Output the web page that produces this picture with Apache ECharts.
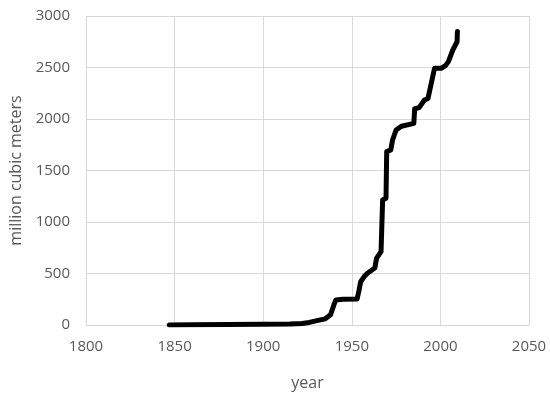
<!DOCTYPE html>
<html>
<head>
<meta charset="utf-8">
<script src="https://cdn.jsdelivr.net/npm/echarts@6/dist/echarts.min.js"></script>
<style>
  html, body { margin: 0; padding: 0; background: #fff; }
  #chart { width: 550px; height: 400px; }
</style>
</head>
<body>
<div id="chart"></div>
<script>
// cumulative volume over time
const years = [1847, 1860, 1880, 1900, 1915, 1922, 1926, 1931, 1935, 1938, 1940, 1941, 1945, 1953,
  1954, 1955, 1957, 1959, 1963, 1964, 1966.5, 1967.4, 1969.3, 1969.7, 1972, 1973, 1975, 1978,
  1985, 1985.5, 1988, 1991, 1993, 1996.7, 2000.5, 2003, 2004.5, 2007, 2009.4, 2009.6];
const volumes = [0, 2, 5, 8, 10, 15, 25, 45, 60, 100, 200, 243, 250, 252,
  330, 420, 470, 505, 553, 650, 712, 1213, 1230, 1683, 1700, 1796, 1893, 1930,
  1958, 2100, 2110, 2184, 2200, 2492, 2492, 2520, 2557, 2670, 2750, 2850];

const xTicks = { min: 1800, max: 2050, step: 50 };
const yTicks = { min: 0, max: 3000, step: 500 };

const chart = echarts.init(document.getElementById("chart"));
const labelFont = { color: "#595959", fontFamily: "Open Sans", fontSize: 15 };
const nameFont = { color: "#595959", fontFamily: "Open Sans", fontSize: 16 };
const gridLine = { lineStyle: { color: "#d9d9d9", width: 1 } };
const plain = v => String(v);

chart.setOption({
  animation: false,
  grid: { left: 86, right: 21, top: 16, bottom: 75 },
  xAxis: {
    type: "value",
    min: xTicks.min,
    max: xTicks.max,
    interval: xTicks.step,
    name: "year",
    nameLocation: "middle",
    nameGap: 50,
    nameTextStyle: nameFont,
    axisLine: { show: true, lineStyle: { color: "#d9d9d9" } },
    axisTick: { show: false },
    axisLabel: Object.assign({ margin: 14, formatter: plain }, labelFont),
    splitLine: gridLine
  },
  yAxis: {
    type: "value",
    min: yTicks.min,
    max: yTicks.max,
    interval: yTicks.step,
    name: "million cubic meters",
    nameLocation: "middle",
    nameGap: 62,
    nameTextStyle: nameFont,
    axisLine: { show: false },
    axisTick: { show: false },
    axisLabel: Object.assign({ margin: 16, formatter: plain }, labelFont),
    splitLine: gridLine
  },
  series: [{
    type: "line",
    data: years.map((y, i) => [y, volumes[i]]),
    showSymbol: false,
    lineStyle: { color: "#000", width: 5, cap: "round", join: "round" },
    itemStyle: { color: "#000" }
  }]
});
</script>
</body>
</html>
